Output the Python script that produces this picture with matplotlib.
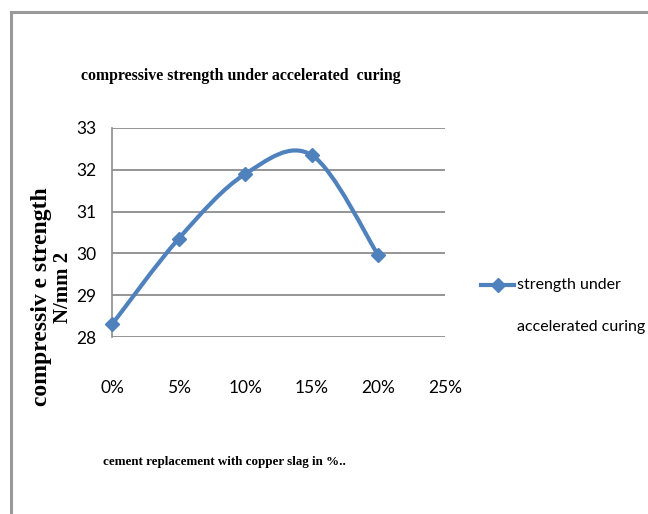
import matplotlib
matplotlib.use("Agg")
import matplotlib.pyplot as plt
from matplotlib.path import Path
from matplotlib.patches import PathPatch
from matplotlib.lines import Line2D

# data
replacement = [0.00, 0.05, 0.10, 0.15, 0.20]
strength = [28.3, 30.35, 31.9, 32.35, 29.95]
x_ticks = [0.00, 0.05, 0.10, 0.15, 0.20, 0.25]
x_tick_labels = ["0%", "5%", "10%", "15%", "20%", "25%"]
y_ticks = [28, 29, 30, 31, 32, 33]

BLUE = "#4F81BD"
GRID = "#8C8C8C"
NARROW = ["Lato", "DejaVu Sans"]
SERIF = ["Liberation Serif", "DejaVu Serif"]

W, H = 648, 514
fig = plt.figure(figsize=(W / 100, H / 100), dpi=100, facecolor="white")

# outer frame (only top and left edges visible)
fig.add_artist(Line2D([11 / W, 1], [1 - 12 / H, 1 - 12 / H], color="#999999", lw=2.2))
fig.add_artist(Line2D([11 / W, 11 / W], [0, 1 - 12 / H], color="#999999", lw=2.2))

# plot area in pixels
left, right, top, bottom = 112, 445, 128, 337
ax = fig.add_axes([left / W, 1 - bottom / H, (right - left) / W, (bottom - top) / H])
ax.set_xlim(0, 0.25)
ax.set_ylim(28, 33)

for sp in ["top", "right", "bottom"]:
    ax.spines[sp].set_visible(False)
ax.spines["left"].set_color(GRID)
ax.spines["left"].set_linewidth(1.2)

ax.set_yticks(y_ticks)
ax.set_yticklabels([str(v) for v in y_ticks], family=NARROW, fontsize=12.5)
ax.set_xticks(x_ticks)
ax.set_xticklabels(x_tick_labels, family=NARROW, fontsize=12.5)
ax.tick_params(axis="y", length=0, pad=11)
ax.tick_params(axis="x", length=0, pad=31)
ax.yaxis.grid(True, color=GRID, lw=1.3)
ax.set_axisbelow(True)

# smoothed line like Excel (Catmull-Rom as cubic Bezier)
pts = list(zip(replacement, strength))
verts = [pts[0]]
codes = [Path.MOVETO]
n = len(pts)
for i in range(n - 1):
    p0 = pts[max(i - 1, 0)]
    p1 = pts[i]
    p2 = pts[i + 1]
    p3 = pts[min(i + 2, n - 1)]
    c1 = (p1[0] + (p2[0] - p0[0]) / 6, p1[1] + (p2[1] - p0[1]) / 6)
    c2 = (p2[0] - (p3[0] - p1[0]) / 6, p2[1] - (p3[1] - p1[1]) / 6)
    verts += [c1, c2, p2]
    codes += [Path.CURVE4] * 3
ax.add_patch(PathPatch(Path(verts, codes), facecolor="none", edgecolor=BLUE,
                       lw=3, capstyle="round", zorder=3, clip_on=False))
ax.plot(replacement, strength, linestyle="none", marker="D", ms=7,
        color=BLUE, zorder=4, clip_on=False)

# title and axis labels
fig.text(241 / W, 1 - 76 / H, "compressive strength under accelerated  curing",
         family=SERIF, fontweight="bold", fontsize=11.4, ha="center", va="center")
fig.text(224 / W, 1 - 462 / H, "cement replacement with copper slag in %..",
         family=SERIF, fontweight="bold", fontsize=9.4, ha="center", va="center")
fig.text(42 / W, 1 - 297 / H, "compressiv e strength", family=SERIF,
         fontweight="bold", fontsize=17, rotation=90, ha="center", va="center")
fig.text(63 / W, 1 - 287 / H, "N/mm 2", family=SERIF,
         fontweight="bold", fontsize=15, rotation=90, ha="center", va="center")

# legend
fig.add_artist(Line2D([481 / W, 514 / W], [1 - 285 / H, 1 - 285 / H], color=BLUE, lw=3))
fig.add_artist(Line2D([497.5 / W], [1 - 285 / H], color=BLUE, marker="D", ms=7, lw=0))
fig.text(517 / W, 1 - 285 / H, "strength under", family=NARROW, fontsize=11.5,
         ha="left", va="center")
fig.text(517 / W, 1 - 327 / H, "accelerated curing", family=NARROW, fontsize=11.5,
         ha="left", va="center")

fig.savefig("out.png", dpi=100, facecolor="white")
